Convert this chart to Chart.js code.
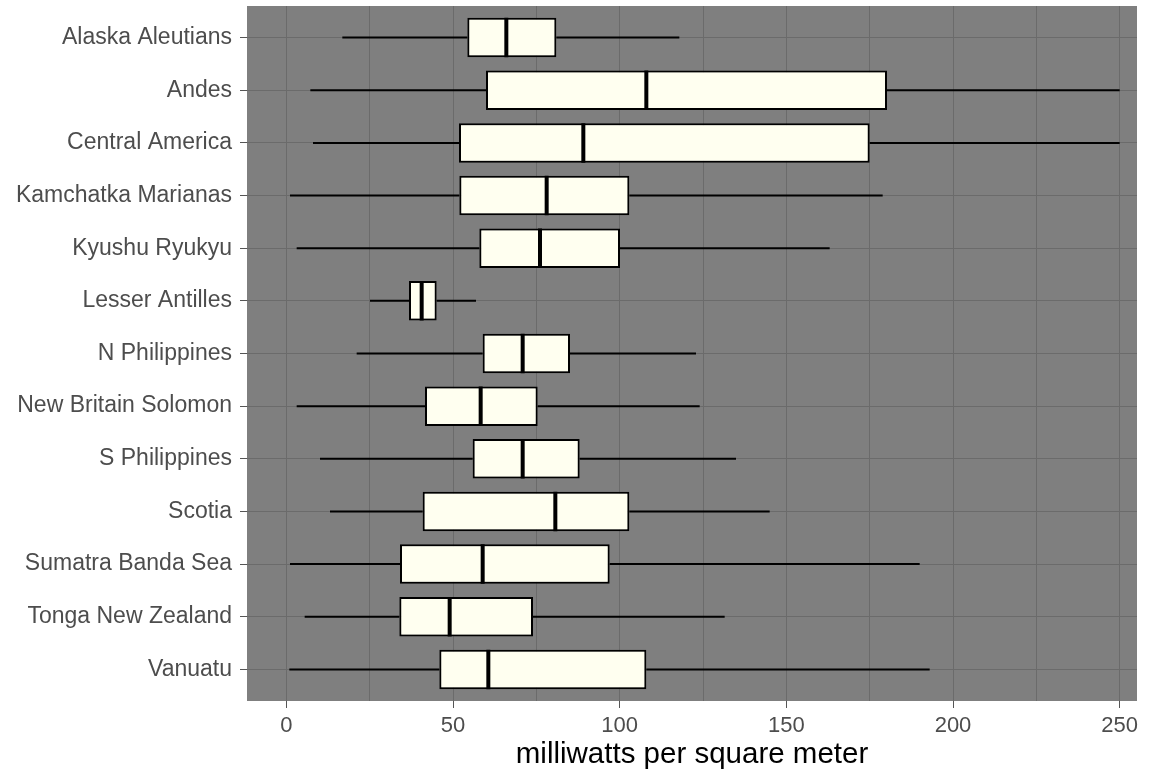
<!DOCTYPE html>
<html>
<head>
<meta charset="utf-8">
<script src="https://cdn.jsdelivr.net/npm/chart.js@4/dist/chart.umd.min.js"></script>
<style>
  html, body { margin: 0; padding: 0; background: #ffffff; }
  #wrap { width: 1149px; height: 773px; }
</style>
</head>
<body>
<div id="wrap"><canvas id="heatflow"></canvas></div>
<script>
// data (heat flow by subduction zone)
const regions = [
  "Alaska Aleutians", "Andes", "Central America", "Kamchatka Marianas",
  "Kyushu Ryukyu", "Lesser Antilles", "N Philippines", "New Britain Solomon",
  "S Philippines", "Scotia", "Sumatra Banda Sea", "Tonga New Zealand", "Vanuatu"
];
const whiskerLow  = [16.8, 7.2, 8.0, 1.1, 3.1, 25.1, 21.1, 3.1, 10.1, 13.1, 1.1, 5.5, 0.9];
const q1          = [54.3, 59.9, 51.8, 51.9, 57.9, 36.8, 58.9, 41.6, 55.9, 40.9, 34.1, 33.9, 45.9];
const median      = [66.0, 108.0, 89.1, 78.1, 76.1, 40.6, 70.9, 58.3, 70.9, 80.7, 58.9, 49.0, 60.6];
const q3          = [81.0, 180.2, 175.0, 102.9, 100.1, 45.1, 85.1, 75.4, 88.0, 102.9, 97.0, 74.0, 108.0];
const whiskerHigh = [117.9, 250, 250, 178.9, 163.0, 56.9, 122.9, 124.0, 134.9, 145.0, 190.0, 131.5, 193.0];
const xTickLabels = [0, 50, 100, 150, 200, 250];
const xTitle = "milliwatts per square meter";

const FONT = "'Liberation Sans', Arial, Helvetica, sans-serif";
const BOX_HALF = 0.375;
const GAP = { x: NaN, y: NaN };

// whiskers: two segments per region, split by gaps
const whiskerPts = [];
regions.forEach((r, i) => {
  whiskerPts.push({ x: whiskerLow[i], y: i }, { x: q1[i], y: i }, GAP);
  whiskerPts.push({ x: q3[i], y: i }, { x: whiskerHigh[i], y: i }, GAP);
});

const medianPts = [];
regions.forEach((r, i) => {
  medianPts.push({ x: median[i], y: i - BOX_HALF }, { x: median[i], y: i + BOX_HALF }, GAP);
});

const boxes = regions.map((r, i) => ({ x: [q1[i], q3[i]], y: i }));

// grey panel behind the grid
const panelBg = {
  id: "panelBg",
  beforeDraw(chart) {
    const { ctx, chartArea: a } = chart;
    ctx.save();
    ctx.fillStyle = "#ffffff";
    ctx.fillRect(0, 0, chart.width, chart.height);
    ctx.fillStyle = "#7f7f7f";
    ctx.fillRect(a.left, a.top, a.right - a.left, a.bottom - a.top);
    ctx.restore();
  }
};

const GRID = "#6b6b6b";
const TICK = "#555555";

new Chart(document.getElementById("heatflow"), {
  type: "bar",
  data: {
    datasets: [
      {
        type: "scatter",
        data: whiskerPts,
        showLine: true,
        borderColor: "#000000",
        borderWidth: 2,
        borderCapStyle: "butt",
        pointRadius: 0,
        spanGaps: false,
        order: 3
      },
      {
        type: "bar",
        indexAxis: "y",
        data: boxes,
        backgroundColor: "#fffff0",
        borderColor: "#000000",
        borderWidth: 2,
        borderSkipped: false,
        categoryPercentage: 0.75,
        barPercentage: 1,
        grouped: false,
        order: 2
      },
      {
        type: "scatter",
        data: medianPts,
        showLine: true,
        borderColor: "#000000",
        borderWidth: 4,
        borderCapStyle: "butt",
        pointRadius: 0,
        spanGaps: false,
        order: 1
      }
    ]
  },
  options: {
    indexAxis: "y",
    responsive: true,
    maintainAspectRatio: false,
    animation: false,
    events: [],
    layout: { padding: { top: 6, right: 12, left: 0, bottom: 0 } },
    plugins: {
      legend: { display: false },
      tooltip: { enabled: false }
    },
    scales: {
      x: {
        type: "linear",
        position: "bottom",
        min: -11.8,
        max: 255.2,
        offset: false,
        beginAtZero: false,
        border: { display: false },
        grid: {
          color: GRID,
          lineWidth: 1,
          tickLength: 7,
          offset: false,
          // tick marks only under the labelled breaks
          tickColor: (c) => (c.tick && xTickLabels.includes(c.tick.value) ? TICK : "rgba(0,0,0,0)")
        },
        ticks: {
          stepSize: 25,
          includeBounds: false,
          autoSkip: false,
          maxRotation: 0,
          padding: 5,
          color: "#4d4d4d",
          font: { family: FONT, size: 22 },
          callback: (v) => (xTickLabels.includes(v) ? String(v) : "")
        },
        title: {
          display: true,
          text: xTitle,
          color: "#000000",
          font: { family: FONT, size: 29.5 },
          padding: { top: 0, bottom: 0 }
        },
        afterFit(s) {
          s.height = 72;
          s.paddingLeft = 0;
          s.paddingRight = 0;
        }
      },
      y: {
        type: "linear",
        position: "left",
        reverse: true,
        min: -0.6,
        max: 12.6,
        offset: false,
        beginAtZero: false,
        border: { display: false },
        grid: { color: GRID, lineWidth: 1, tickLength: 7, tickColor: TICK, offset: false },
        ticks: {
          stepSize: 1,
          includeBounds: false,
          autoSkip: false,
          padding: 8,
          color: "#4d4d4d",
          font: { family: FONT, size: 23 },
          callback: (v) => regions[v] ?? ""
        },
        afterFit(s) {
          s.width = 247;
          s.paddingTop = 0;
          s.paddingBottom = 0;
        }
      }
    }
  },
  plugins: [panelBg]
});
</script>
</body>
</html>
